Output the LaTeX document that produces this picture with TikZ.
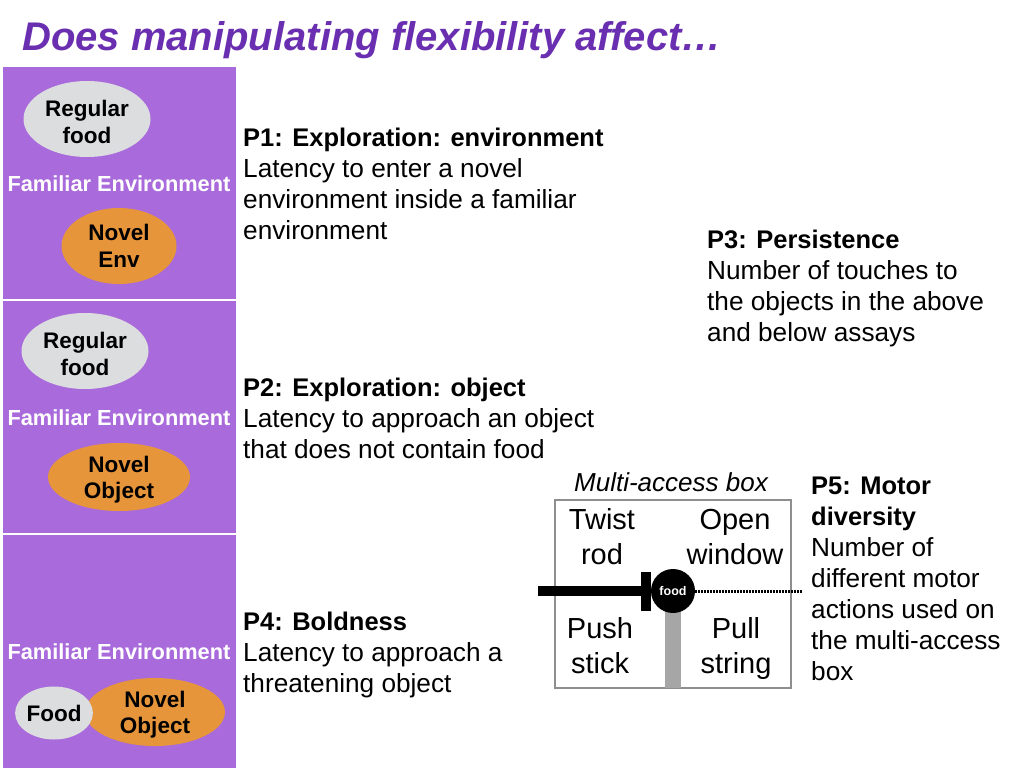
\documentclass[tikz,border=0pt]{standalone}
\usepackage{fontspec}
\setmainfont{Liberation Sans}
\usetikzlibrary{shapes.geometric}
\definecolor{panelpurple}{HTML}{A96BDB}
\definecolor{titlepurple}{HTML}{6A2FB0}
\definecolor{foodgray}{HTML}{DCDDDF}
\definecolor{novelorange}{HTML}{E6953A}
\definecolor{boxgray}{HTML}{8E8E8E}
\definecolor{stickgray}{HTML}{A6A6A6}
\newcommand{\bodysize}{\fontsize{26.2}{31}\selectfont}
\newcommand{\predhead}[1]{{\fontsize{25.5}{31}\selectfont\bfseries #1}}
\newcommand{\ovalsize}{\fontsize{22.5}{26.5}\selectfont\bfseries}
\newcommand{\ovalpad}{\rule{0pt}{22pt}}
\tikzset{
	panel/.style={fill=panelpurple, draw=none},
	envlabel/.style={text=white, font=\fontsize{21.8}{25}\selectfont\bfseries, inner sep=0pt},
	foodoval/.style={ellipse, fill=foodgray, inner sep=0pt, inner ysep=-4pt, align=center, font=\ovalsize},
	noveloval/.style={ellipse, fill=novelorange, inner sep=0pt, inner ysep=-4pt, align=center, font=\ovalsize},
	predtext/.style={anchor=north west, align=left, inner sep=0pt, font=\bodysize},
	boxtext/.style={align=center, inner sep=0pt, font=\fontsize{29}{35}\selectfont}
}
\begin{document}
\begin{tikzpicture}[x=1pt,y=-1pt]
	\useasboundingbox (0,0) rectangle (1024,768);
	\fill[white] (0,0) rectangle (1024,768);
	\node[anchor=base west, inner sep=0pt, text=titlepurple, font=\fontsize{40}{46}\selectfont\bfseries\itshape] (title) at (22,50) {Does manipulating flexibility affect…};

	\fill[panel] (3,67) rectangle (236,299);
	\fill[panel] (3,301) rectangle (236,533);
	\fill[panel] (3,535) rectangle (236,768);

	\node[foodoval, minimum width=127pt, minimum height=76pt] (food1) at (87,119) {\ovalpad Regular\\food};
	\node[envlabel] (env1) at (119,184) {Familiar Environment};
	\node[noveloval, minimum width=115pt, minimum height=76pt] (novel1) at (119,246) {Novel\\Env};

	\node[foodoval, minimum width=127pt, minimum height=76pt] (food2) at (85,351) {\ovalpad Regular\\food};
	\node[envlabel] (env2) at (119,418) {Familiar Environment};
	\node[noveloval, minimum width=142pt, minimum height=68pt] (novel2) at (119,477) {\ovalpad Novel\\Object};

	\node[envlabel] (env3) at (119,652) {Familiar Environment};
	\node[noveloval, minimum width=140pt, minimum height=68pt] (novel3) at (155,712) {\ovalpad Novel\\Object};
	\node[foodoval, minimum width=76pt, minimum height=53pt] (food3) at (54,713) {Food};

	\node[predtext] (p1) at (243,128) {\predhead{P1: Exploration: environment}\\Latency to enter a novel\\environment inside a familiar\\environment};
	\node[predtext] (p2) at (243,378) {\predhead{P2: Exploration: object}\\Latency to approach an object\\that does not contain food};
	\node[predtext] (p4) at (243,612) {\predhead{P4: Boldness}\\Latency to approach a\\threatening object};
	\node[predtext] (p3) at (707,230) {\predhead{P3: Persistence}\\Number of touches to\\the objects in the above\\and below assays};
	\node[predtext] (p5) at (811,477) {\predhead{P5: Motor}\\\predhead{diversity}\\Number of\\different motor\\actions used on\\the multi-access\\box};

	\node[inner sep=0pt, font=\fontsize{26}{30}\selectfont\itshape] (boxtitle) at (671,482) {Multi-access box};
	\node[draw=boxgray, line width=2.5pt, minimum width=236pt, minimum height=188pt, inner sep=0pt] (box) at (673,594) {};
	\node[boxtext] (twist) at (602,537) {Twist\\rod};
	\node[boxtext] (window) at (735,537) {Open\\window};
	\node[boxtext] (push) at (600,646) {Push\\stick};
	\node[boxtext] (pull) at (736,648) {Pull\\string};

	\coordinate (rodend) at (538,591);
	\coordinate (stringend) at (803,591);
	\coordinate (stickend) at (673,688);
	\coordinate (stickstart) at (673,591);
	\draw[stickgray, line width=16pt] (stickstart) -- (stickend);
	\node[circle, fill=black, minimum size=44pt, inner sep=0pt, text=white, font=\fontsize{12.5}{15}\selectfont\bfseries] (food) at (stickstart) {food};
	\node[fill=black, minimum width=10pt, minimum height=39pt, inner sep=0pt] (rodhead) at (646,591) {};

	\draw[line width=9.5pt] (rodend) -- (rodhead.west);
	\draw[line width=3pt, dash pattern=on 2pt off 1pt] (food) -- (stringend);
\end{tikzpicture}
\end{document}
